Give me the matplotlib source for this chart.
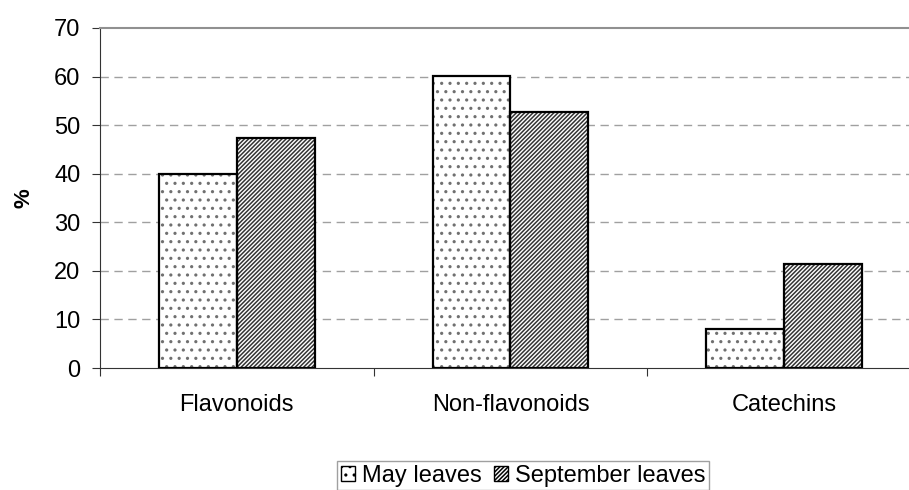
import numpy as np
import matplotlib.pyplot as plt

plt.rcParams['font.family'] = ['Liberation Sans', 'DejaVu Sans']
plt.rcParams['hatch.linewidth'] = 1.1

# data
categories = ['Flavonoids', 'Non-flavonoids', 'Catechins']
may_leaves = [40.0, 60.2, 8.0]
sept_leaves = [47.4, 52.7, 21.4]
series_names = ['May leaves', 'September leaves']

fig = plt.figure(figsize=(9.09, 4.90), dpi=100)
ax = fig.add_axes([100/909, 122/490, 821/909, 340/490])

x = np.arange(len(categories))
w = 0.285
# hatched fill first (hatch takes the edge colour), then the black outline
ax.bar(x - w/2, may_leaves, w, color='white', edgecolor='#707070', hatch='..',
       linewidth=0, label=series_names[0], zorder=3)
ax.bar(x + w/2, sept_leaves, w, color='white', edgecolor='#333333', hatch='////////',
       linewidth=0, label=series_names[1], zorder=3)
ax.bar(x - w/2, may_leaves, w, fill=False, edgecolor='black', linewidth=1.6, zorder=4)
ax.bar(x + w/2, sept_leaves, w, fill=False, edgecolor='black', linewidth=1.6, zorder=4)

ax.set_xlim(-0.5, 2.5)
ax.set_ylim(0, 70)
ax.set_yticks(np.arange(0, 71, 10))
for yv in range(10, 70, 10):
    ax.axhline(yv, color='#a0a0a0', lw=1, dashes=(6, 4), zorder=1)

# category separators as ticks, labels on minor ticks
ax.set_xticks([-0.5, 0.5, 1.5, 2.5])
ax.set_xticklabels([])
ax.set_xticks(x, minor=True)
ax.set_xticklabels(categories, minor=True)
ax.tick_params(axis='x', which='minor', length=0, pad=19, labelsize=17)
ax.tick_params(axis='x', which='major', length=6, direction='out', color='#333333')
ax.tick_params(axis='y', length=6, direction='out', labelsize=17, pad=8, color='#333333')

ax.spines['right'].set_visible(False)
ax.spines['top'].set_color('#909090')
ax.spines['top'].set_linewidth(1.5)
ax.spines['left'].set_color('#333333')
ax.spines['bottom'].set_color('#333333')

ax.set_ylabel('%', fontsize=16, fontweight='bold', labelpad=14)

leg = fig.legend(loc='upper center', bbox_to_anchor=(523/909, 1 - 461/490), ncol=2,
                 fontsize=17, handlelength=0.6, handleheight=0.6, handletextpad=0.3,
                 columnspacing=0.5, borderpad=0.15, borderaxespad=0,
                 fancybox=False, framealpha=1)
leg.get_frame().set_edgecolor('#a0a0a0')
leg.get_frame().set_linewidth(1.0)
for p in leg.get_patches():
    p.set_linewidth(1.0)
    p.set_edgecolor('black')

fig.savefig('out.png', dpi=100)
